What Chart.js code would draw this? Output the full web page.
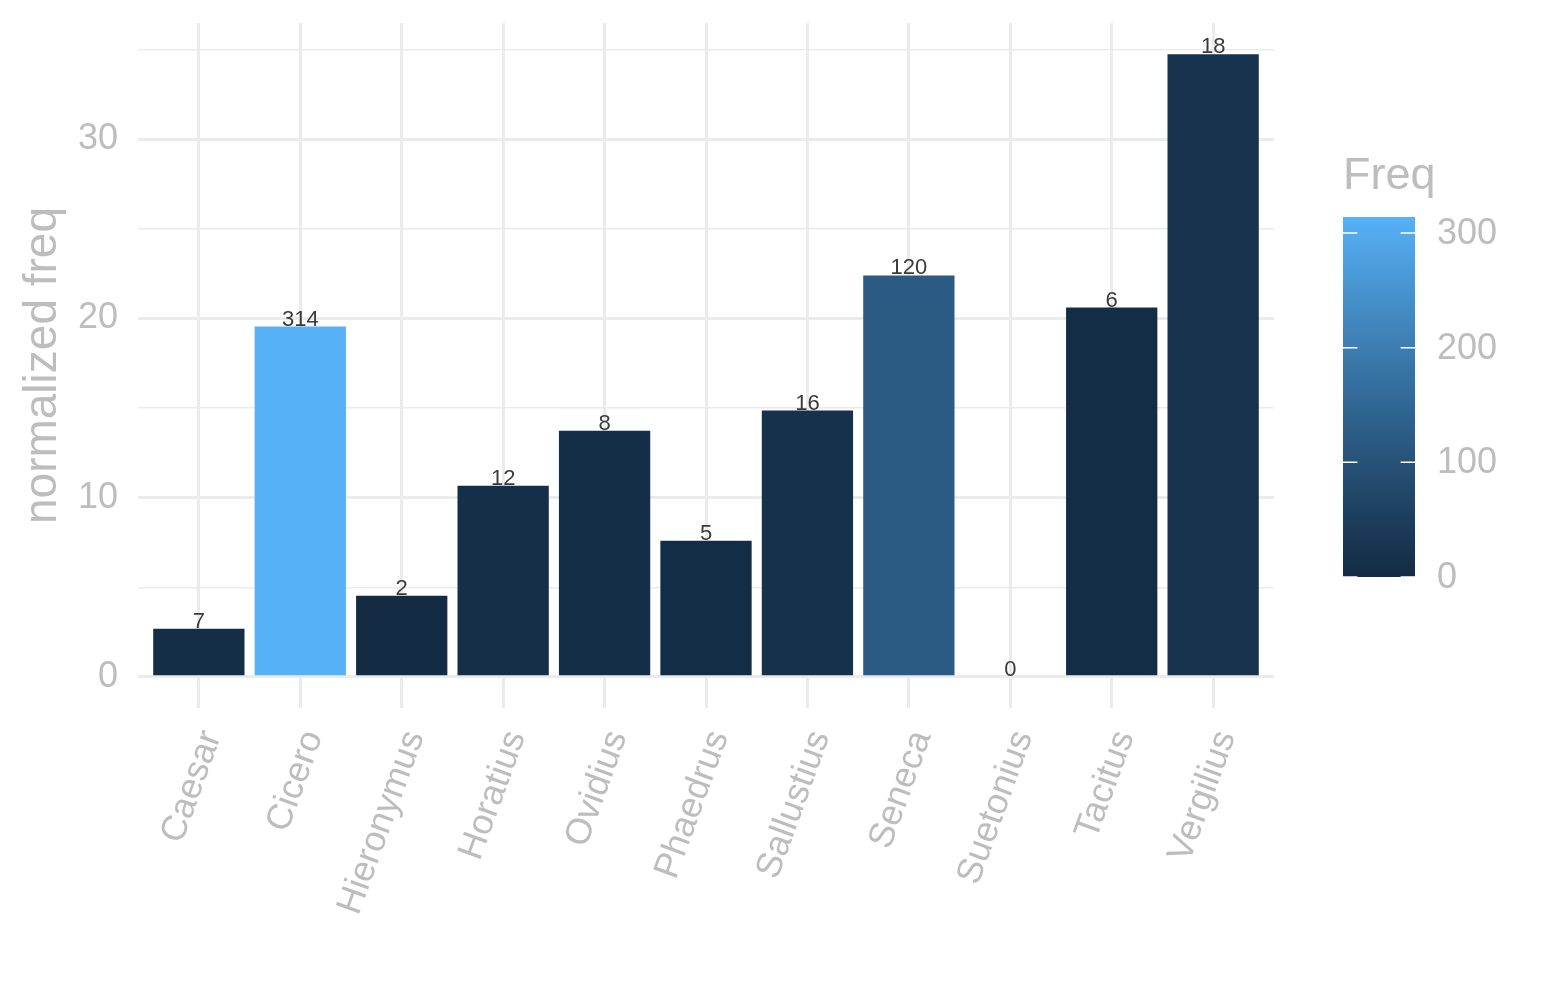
<!DOCTYPE html>
<html>
<head>
<meta charset="utf-8">
<script src="https://cdn.jsdelivr.net/npm/chart.js@4.4.1/dist/chart.umd.min.js"></script>
<style>
html,body{margin:0;padding:0;background:#fff;}
#wrap{width:1545px;height:1000px;}
</style>
</head>
<body>
<div id="wrap"><canvas id="c" width="1545" height="1000"></canvas></div>
<script>
const authors = ['Caesar','Cicero','Hieronymus','Horatius','Ovidius','Phaedrus','Sallustius','Seneca','Suetonius','Tacitus','Vergilius'];
const normFreq = [2.68, 19.55, 4.53, 10.67, 13.74, 7.60, 14.86, 22.40, 0, 20.61, 34.75];
const freq = [7, 314, 2, 12, 8, 5, 16, 120, 0, 6, 18];
const yTickValues = [0, 10, 20, 30];
const yMinorValues = [5, 15, 25, 35];
const legendTicks = [0, 100, 200, 300];
const lowColor = '#132B43';
const highColor = '#56B1F7';

const FONT = '"Liberation Sans", Arial, Helvetica, sans-serif';
const GREY = '#BDBDBD';
const GRID = '#EBEBEB';

// --- Lab colour interpolation (like ggplot's seq_gradient) ---
function hexToRgb(h){h=h.replace('#','');return [parseInt(h.slice(0,2),16),parseInt(h.slice(2,4),16),parseInt(h.slice(4,6),16)];}
function lin(c){c/=255;return c<=0.04045?c/12.92:Math.pow((c+0.055)/1.055,2.4);}
function delin(c){c=c<=0.0031308?12.92*c:1.055*Math.pow(c,1/2.4)-0.055;return Math.max(0,Math.min(255,Math.round(c*255)));}
const Xn=0.95047,Yn=1,Zn=1.08883;
function f(t){return t>0.008856?Math.cbrt(t):7.787*t+16/116;}
function finv(t){return t>0.206893?t*t*t:(t-16/116)/7.787;}
function rgbToLab(rgb){const r=lin(rgb[0]),g=lin(rgb[1]),b=lin(rgb[2]);
  const X=r*0.4124+g*0.3576+b*0.1805,Y=r*0.2126+g*0.7152+b*0.0722,Z=r*0.0193+g*0.1192+b*0.9505;
  const fx=f(X/Xn),fy=f(Y/Yn),fz=f(Z/Zn);return [116*fy-16,500*(fx-fy),200*(fy-fz)];}
function labToRgb(lab){const fy=(lab[0]+16)/116,fx=fy+lab[1]/500,fz=fy-lab[2]/200;
  const X=Xn*finv(fx),Y=Yn*finv(fy),Z=Zn*finv(fz);
  const r=X*3.2406+Y*-1.5372+Z*-0.4986,g=X*-0.9689+Y*1.8758+Z*0.0415,b=X*0.0557+Y*-0.2040+Z*1.0570;
  return [delin(r),delin(g),delin(b)];}
const labLow=rgbToLab(hexToRgb(lowColor)), labHigh=rgbToLab(hexToRgb(highColor));
const fMin=Math.min(...freq), fMax=Math.max(...freq);
function colorFor(v){const t=(v-fMin)/(fMax-fMin);
  const lab=[0,1,2].map(i=>labLow[i]+(labHigh[i]-labLow[i])*t);
  const c=labToRgb(lab);return 'rgb('+c.join(',')+')';}

const barColors = freq.map(colorFor);
const dMax = Math.max(...normFreq), dMin = Math.min(0, ...normFreq);
const span = dMax - dMin;

const barLabels = {
  id:'barLabels',
  afterDatasetsDraw(chart){
    const ctx=chart.ctx, meta=chart.getDatasetMeta(0);
    ctx.save();
    ctx.font='22px '+FONT; ctx.fillStyle='#3A3A3A'; ctx.textAlign='center'; ctx.textBaseline='alphabetic';
    meta.data.forEach((el,i)=>{ctx.fillText(String(freq[i]), el.x, el.y-1);});
    ctx.restore();
  }
};

const colorbar = {
  id:'colorbar',
  afterDraw(chart){
    const ctx=chart.ctx;
    const x0=1343,w=72,yTop=217,yBot=577;
    const toY=v=>yBot-(v-fMin)/(fMax-fMin)*(yBot-yTop);
    ctx.save();
    const g=ctx.createLinearGradient(0,yBot,0,yTop);
    for(let k=0;k<=20;k++){const v=fMin+(fMax-fMin)*k/20;g.addColorStop(k/20,colorFor(v));}
    ctx.fillStyle=g; ctx.fillRect(x0,yTop,w,yBot-yTop);
    ctx.strokeStyle='#FFFFFF'; ctx.lineWidth=1.5;
    ctx.font='36px '+FONT; ctx.fillStyle=GREY; ctx.textAlign='left'; ctx.textBaseline='middle';
    legendTicks.forEach(v=>{const y=toY(v);
      ctx.beginPath();ctx.moveTo(x0,y);ctx.lineTo(x0+w/5,y);ctx.moveTo(x0+w-w/5,y);ctx.lineTo(x0+w,y);ctx.stroke();
      ctx.fillText(String(v),1437,y+1);});
    ctx.font='45px '+FONT; ctx.textBaseline='alphabetic';
    ctx.fillText('Freq',1343,189);
    ctx.restore();
  }
};

new Chart(document.getElementById('c'),{
  type:'bar',
  data:{
    labels:authors,
    datasets:[{data:normFreq.map((v,i)=>({x:i,y:v})),backgroundColor:barColors,borderWidth:0,barPercentage:0.9,categoryPercentage:1}]
  },
  options:{
    responsive:false,animation:false,devicePixelRatio:1,
    layout:{autoPadding:false,padding:{top:23,right:271,bottom:0,left:0}},
    plugins:{legend:{display:false},tooltip:{enabled:false}},
    scales:{
      x:{
        type:'linear',min:-0.6,max:authors.length-1+0.6,offset:false,
        afterBuildTicks:s=>{s.ticks=authors.map((a,i)=>({value:i}));},
        afterFit:s=>{s.height=292;s.paddingLeft=0;s.paddingRight=0;s.paddingTop=0;s.paddingBottom=0;},
        grid:{color:GRID,lineWidth:3,drawTicks:false,offset:false},
        border:{display:false},
        ticks:{autoSkip:false,minRotation:70,maxRotation:70,padding:17,labelOffset:13,color:GREY,font:{family:FONT,size:36},
          callback:v=>authors[v]}
      },
      y:{
        min:dMin-0.05*span,max:dMax+0.05*span,
        afterBuildTicks:s=>{s.ticks=[...yTickValues,...yMinorValues].sort((a,b)=>a-b).map(v=>({value:v}));},
        afterFit:s=>{s.width=138;s.paddingTop=0;s.paddingBottom=0;s.paddingLeft=0;s.paddingRight=0;},
        grid:{color:GRID,lineWidth:c=>(c.tick&&yTickValues.includes(c.tick.value))?3:1.5,drawTicks:false},
        border:{display:false},
        ticks:{padding:20,color:GREY,font:{family:FONT,size:36},
          callback:v=>yTickValues.includes(v)?String(v):''},
        title:{display:true,text:'normalized freq',color:GREY,font:{family:FONT,size:46},padding:{top:16,bottom:0}}
      }
    }
  },
  plugins:[barLabels,colorbar]
});
</script>
</body>
</html>
